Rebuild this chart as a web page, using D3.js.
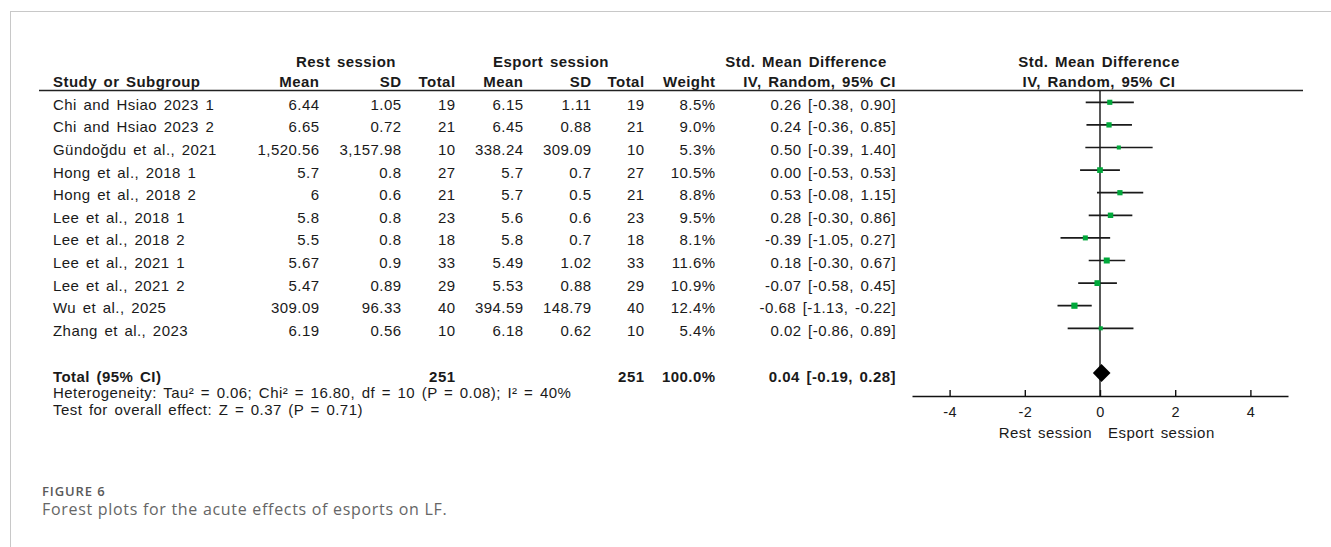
<!DOCTYPE html>
<html><head><meta charset="utf-8">
<script src="https://cdn.jsdelivr.net/npm/d3@7/dist/d3.min.js"></script>
<style>
body{margin:0;background:#fff}
svg{display:block}
.t{font-family:"Liberation Sans",Arial,sans-serif;font-size:15px;fill:#1a1a1a;letter-spacing:0.45px;word-spacing:2px}
.b{font-weight:bold}
</style>
</head><body>
<svg id="c" width="1331" height="547"></svg>
<script>
// ---- data ----
const studies = ["Chi and Hsiao 2023 1","Chi and Hsiao 2023 2","Gündoğdu et al., 2021","Hong et al., 2018 1","Hong et al., 2018 2","Lee et al., 2018 1","Lee et al., 2018 2","Lee et al., 2021 1","Lee et al., 2021 2","Wu et al., 2025","Zhang et al., 2023"];
const restMean = [6.44, 6.65, 1520.56, 5.7, 6, 5.8, 5.5, 5.67, 5.47, 309.09, 6.19];
const restSD   = [1.05, 0.72, 3157.98, 0.8, 0.6, 0.8, 0.8, 0.9, 0.89, 96.33, 0.56];
const restN    = [19, 21, 10, 27, 21, 23, 18, 33, 29, 40, 10];
const espMean  = [6.15, 6.45, 338.24, 5.7, 5.7, 5.6, 5.8, 5.49, 5.53, 394.59, 6.18];
const espSD    = [1.11, 0.88, 309.09, 0.7, 0.5, 0.6, 0.7, 1.02, 0.88, 148.79, 0.62];
const espN     = [19, 21, 10, 27, 21, 23, 18, 33, 29, 40, 10];
const weight   = [8.5, 9.0, 5.3, 10.5, 8.8, 9.5, 8.1, 11.6, 10.9, 12.4, 5.4];
const smd      = [0.26, 0.24, 0.50, 0.00, 0.53, 0.28, -0.39, 0.18, -0.07, -0.68, 0.02];
const ciLo     = [-0.38, -0.36, -0.39, -0.53, -0.08, -0.30, -1.05, -0.30, -0.58, -1.13, -0.86];
const ciHi     = [0.90, 0.85, 1.40, 0.53, 1.15, 0.86, 0.27, 0.67, 0.45, -0.22, 0.89];
const total    = {restN: 251, espN: 251, weight: 100.0, smd: 0.04, lo: -0.19, hi: 0.28};
const tickValues = [-4, -2, 0, 2, 4];
const heterogeneity = "Heterogeneity: Tau² = 0.06; Chi² = 16.80, df = 10 (P = 0.08); I² = 40%";
const overall = "Test for overall effect: Z = 0.37 (P = 0.71)";
const favours = ["Rest session", "Esport session"];

// ---- layout ----
const svg = d3.select("#c");
const x = d3.scaleLinear().domain([-5, 5]).range([912, 1288]);
const y = d3.scaleLinear().domain([0, studies.length - 1]).range([102.3, 328.3]);
const sq = d3.scaleSqrt().domain([0, 12.4]).range([0, 6.2]);
const num = d3.format(",");
const f2 = v => v.toFixed(2);
const ci = (e, l, h) => `${f2(e)} [${f2(l)}, ${f2(h)}]`;

// frame
svg.append("line").attr("x1", 10).attr("y1", 11.5).attr("x2", 1331).attr("y2", 11.5).attr("stroke", "#c8c8c8");
svg.append("line").attr("x1", 10.5).attr("y1", 11).attr("x2", 10.5).attr("y2", 547).attr("stroke", "#c8c8c8");

function txt(s, xx, yy, anchor, bold) {
  return svg.append("text").attr("class", "t" + (bold ? " b" : "")).attr("x", xx).attr("y", yy)
    .attr("text-anchor", anchor || "start").text(s);
}

// column right edges
const cols = {study: 53, rm: 319.5, rs: 401.5, rn: 455.5, em: 523.5, es: 591.5, en: 644.5, w: 715.5, ci: 896};

// headers
txt("Rest session", 346, 67, "middle", true);
txt("Esport session", 551, 67, "middle", true);
txt("Std. Mean Difference", 806, 67, "middle", true);
txt("Std. Mean Difference", 1099, 67, "middle", true);
txt("Study or Subgroup", cols.study, 87, "start", true);
[["Mean", cols.rm], ["SD", cols.rs], ["Total", cols.rn], ["Mean", cols.em], ["SD", cols.es], ["Total", cols.en], ["Weight", cols.w], ["IV, Random, 95% CI", cols.ci]]
  .forEach(([s, xx]) => txt(s, xx, 87, "end", true));
txt("IV, Random, 95% CI", 1099, 87, "middle", true);
svg.append("line").attr("x1", 39).attr("x2", 1303).attr("y1", 90.5).attr("y2", 90.5).attr("stroke", "#222").attr("stroke-width", 1.5);

// rows
studies.forEach((s, i) => {
  const yy = y(i) + 7.5;
  txt(s, cols.study, yy, "start");
  txt(num(restMean[i]), cols.rm, yy, "end");
  txt(num(restSD[i]), cols.rs, yy, "end");
  txt(restN[i], cols.rn, yy, "end");
  txt(num(espMean[i]), cols.em, yy, "end");
  txt(num(espSD[i]), cols.es, yy, "end");
  txt(espN[i], cols.en, yy, "end");
  txt(weight[i].toFixed(1) + "%", cols.w, yy, "end");
  txt(ci(smd[i], ciLo[i], ciHi[i]), cols.ci, yy, "end");
});

// total
const ty = 373;
txt("Total (95% CI)", cols.study, ty + 8.5, "start", true);
txt(total.restN, cols.rn, ty + 8.5, "end", true);
txt(total.espN, cols.en, ty + 8.5, "end", true);
txt(total.weight.toFixed(1) + "%", cols.w, ty + 8.5, "end", true);
txt(ci(total.smd, total.lo, total.hi), cols.ci, ty + 8.5, "end", true);
txt(heterogeneity, cols.study, 398, "start");
txt(overall, cols.study, 415, "start");

// zero line
svg.append("line").attr("x1", x(0)).attr("x2", x(0)).attr("y1", 91).attr("y2", 396).attr("stroke", "#111").attr("stroke-width", 1.4);

// CIs and squares
const g = svg.append("g");
g.selectAll("line.ci").data(studies).join("line").attr("class", "ci")
  .attr("x1", (d, i) => x(ciLo[i])).attr("x2", (d, i) => x(ciHi[i]))
  .attr("y1", (d, i) => y(i)).attr("y2", (d, i) => y(i))
  .attr("stroke", "#1a1a1a").attr("stroke-width", 1.7);
g.selectAll("rect.sq").data(studies).join("rect").attr("class", "sq")
  .attr("x", (d, i) => x(smd[i]) - sq(weight[i]) / 2)
  .attr("y", (d, i) => y(i) - sq(weight[i]) / 2)
  .attr("width", (d, i) => sq(weight[i])).attr("height", (d, i) => sq(weight[i]))
  .attr("fill", "#00a83a");

// diamond
svg.append("path")
  .attr("d", `M${x(total.lo)},${ty}L${x(total.smd)},${ty - 9}L${x(total.hi)},${ty}L${x(total.smd)},${ty + 9}Z`)
  .attr("fill", "#000");

// axis
const axis = d3.axisBottom(x).tickValues(tickValues).tickSizeInner(-6).tickSizeOuter(0).tickPadding(11)
  .tickFormat(d => d === 0 ? "0" : (d < 0 ? "-" + Math.abs(d) : String(d)));
const ag = svg.append("g").attr("transform", "translate(0,396)").call(axis);
ag.select(".domain").attr("stroke", "#111").attr("stroke-width", 1.4);
ag.selectAll(".tick line").attr("stroke", "#111").attr("stroke-width", 1.4);
ag.selectAll(".tick text").attr("class", "t").attr("fill", "#1a1a1a").style("font-size", "14.5px");
txt(favours[0], 1092, 438, "end");
txt(favours[1], 1108, 438, "start");

// caption
svg.append("text").attr("x", 42).attr("y", 496).attr("font-family", "'Open Sans',sans-serif").attr("font-weight", 600)
  .attr("font-size", 13).attr("letter-spacing", "0.9px").attr("fill", "#5a5a5a").text("FIGURE 6");
svg.append("text").attr("x", 42).attr("y", 514.5).attr("font-family", "'Open Sans',sans-serif")
  .attr("font-size", 16).attr("letter-spacing", "0.7px").attr("fill", "#666").text("Forest plots for the acute effects of esports on LF.");
</script>
</body></html>
